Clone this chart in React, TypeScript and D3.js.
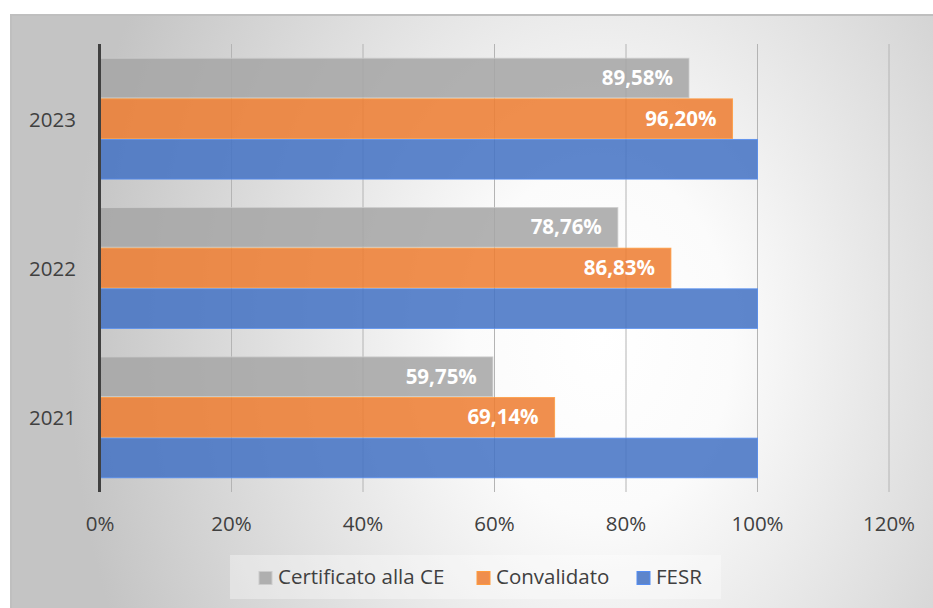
import React from "react";
import * as d3 from "d3";

const categories = ["2023", "2022", "2021"];
const seriesNames = ["Certificato alla CE", "Convalidato", "FESR"];
const certificato = [0.8958, 0.7876, 0.5975];
const convalidato = [0.962, 0.8683, 0.6914];
const fesr = [1.0, 1.0, 1.0];
const showLabel = [true, true, false];
const xTicks = [0, 0.2, 0.4, 0.6, 0.8, 1.0, 1.2];
const colors = ["#a5a5a5", "#ed7d31", "#4472c4"];

const W = 933;
const H = 608;
const FONT = "'Open Sans', 'Liberation Sans', sans-serif";

export default function App() {
  const seriesValues = [certificato, convalidato, fesr];
  const x = d3.scaleLinear().domain([0, 1.2]).range([100, 889]);
  const y0 = d3.scaleBand<string>().domain(categories).range([44, 492]).padding(0);
  const step = y0.bandwidth();
  const gap = step * 0.184;
  const y1 = d3.scaleBand<string>().domain(seriesNames).range([gap / 2, step - gap / 2]).padding(0);
  const pct = (v: number) => (v * 100).toFixed(2).replace(".", ",") + "%";
  const tickFmt = (v: number) => Math.round(v * 100) + "%";
  const legendX = [259, 477, 637];

  return (
    <svg width={W} height={H} style={{ position: "absolute", left: 0, top: 0, display: "block" }} fontFamily={FONT}>
      <defs>
        <radialGradient id="bg" gradientUnits="userSpaceOnUse" cx={600} cy={340} r={560}
          gradientTransform="translate(600 340) scale(0.95 1.25) translate(-600 -340)">
          <stop offset="0" stopColor="#ffffff" />
          <stop offset="0.25" stopColor="#fbfbfb" />
          <stop offset="1" stopColor="#c4c4c4" />
        </radialGradient>
      </defs>
      <rect x={0} y={0} width={W} height={H} fill="#ffffff" />
      <rect x={11} y={15} width={W + 10} height={H + 10} fill="url(#bg)" stroke="#bfbfbf" strokeWidth={2} />

      {/* gridlines */}
      {xTicks.slice(1).map((t) => (
        <line key={"g" + t} x1={x(t)} x2={x(t)} y1={44} y2={492} stroke="#b4b4b4" strokeWidth={1} />
      ))}

      {/* bars */}
      {categories.map((cat, ci) => (
        <g key={cat} transform={`translate(0, ${y0(cat)})`}>
          {seriesNames.map((s, si) => {
            const v = seriesValues[si][ci];
            const yy = (y1(s) as number) + 0.5;
            const hh = y1.bandwidth() - 1;
            const c = d3.color(colors[si])!;
            return (
              <g key={s}>
                <rect x={x(0)} y={yy} width={x(v) - x(0)} height={hh} fill={colors[si]} fillOpacity={0.86}
                  stroke={c.brighter(0.6).formatHex()} strokeOpacity={0.8} strokeWidth={1} />
                {showLabel[si] && (
                  <text x={x(v) - 16} y={yy + hh / 2 + 7} textAnchor="end" fill="#ffffff" fontWeight={700} fontSize={20.5}>
                    {pct(v)}
                  </text>
                )}
              </g>
            );
          })}
        </g>
      ))}

      {/* axis line */}
      <line x1={99.5} x2={99.5} y1={44} y2={492} stroke="#404040" strokeWidth={3} />

      {/* category labels */}
      {categories.map((cat) => (
        <text key={"c" + cat} x={76} y={(y0(cat) as number) + step / 2 + 8} textAnchor="end" fill="#404040" fontSize={20.5}>
          {cat}
        </text>
      ))}

      {/* x tick labels */}
      {xTicks.map((t) => (
        <text key={"t" + t} x={x(t)} y={531} textAnchor="middle" fill="#404040" fontSize={20.5}>
          {tickFmt(t)}
        </text>
      ))}

      {/* legend */}
      <rect x={230} y={555} width={491} height={44} fill="#ffffff" fillOpacity={0.35} />
      {seriesNames.map((s, si) => (
        <g key={"l" + s}>
          <rect x={legendX[si]} y={571.5} width={13} height={13} fill={colors[si]} fillOpacity={0.86}
            stroke={d3.color(colors[si])!.brighter(0.6).formatHex()} strokeWidth={1} />
          <text x={legendX[si] + 19} y={584} fill="#404040" fontSize={20.5}>
            {s}
          </text>
        </g>
      ))}
    </svg>
  );
}
